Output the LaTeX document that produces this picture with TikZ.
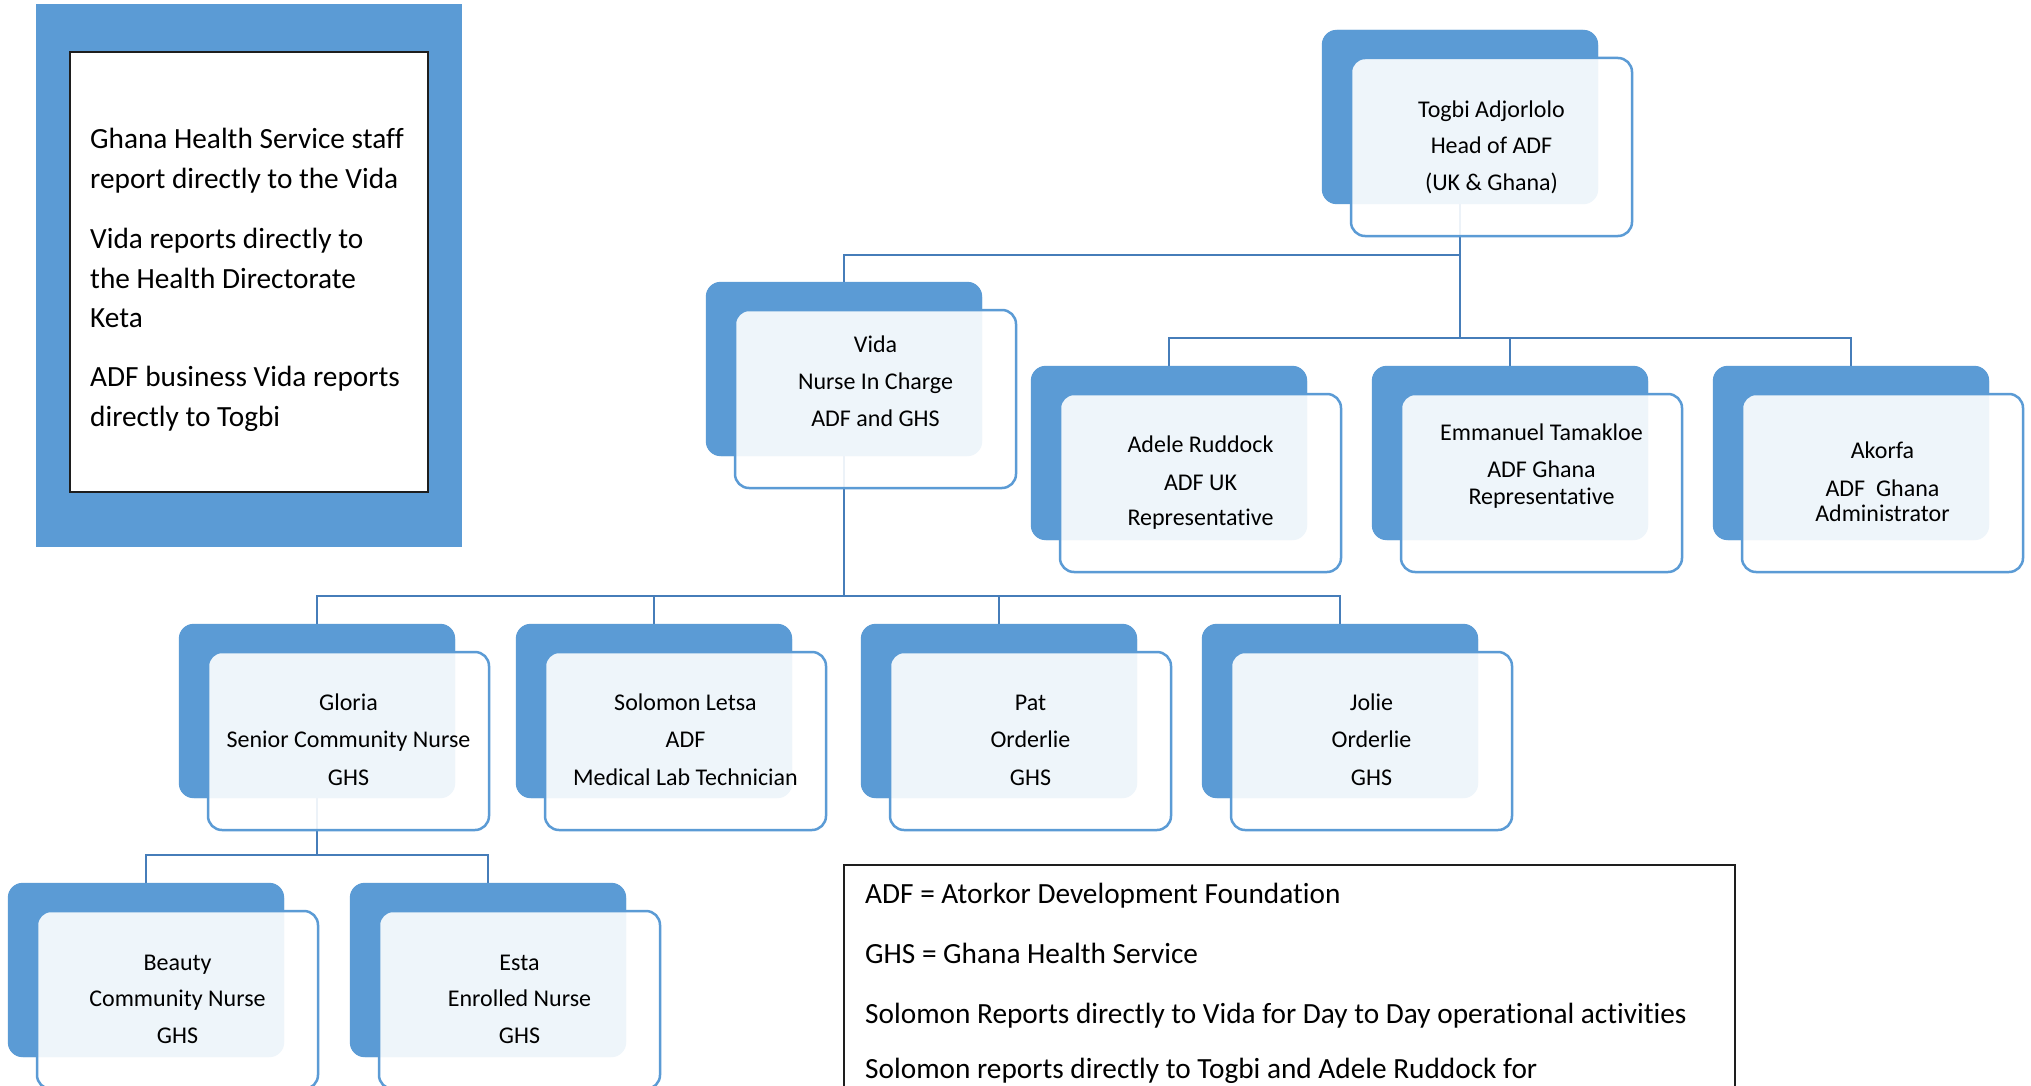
\documentclass[tikz,border=0pt]{standalone}
\usepackage{fontspec}
\setmainfont{Carlito}[Ligatures={NoCommon,NoContextual}]
\definecolor{accent}{RGB}{91,155,213}
\definecolor{connc}{RGB}{70,125,185}
\definecolor{legbord}{RGB}{30,30,30}
\tikzset{
  backbox/.style={fill=accent, draw=none, rounded corners=15pt, minimum width=276pt, minimum height=174pt, inner sep=0pt},
  frontbox/.style={fill=white, fill opacity=0.9, draw=accent, line width=2.5pt, rounded corners=14pt, minimum width=281pt, minimum height=178pt, inner sep=0pt},
  conn/.style={draw=connc, line width=2.8pt},
  nodetxt/.style={font=\fontsize{24}{29}\selectfont, anchor=base, inner sep=0pt, text=black},
  legtxt/.style={font=\fontsize{29.3}{35}\selectfont, anchor=base west, inner sep=0pt, text=black},
}
\begin{document}
\begin{tikzpicture}[x=1pt,y=-1pt]
\clip (0,0) rectangle (2031,1086);
\fill[white] (0,0) rectangle (2031,1086);

% ---------- legend left ----------
\fill[accent] (36,4) rectangle (462,547);
\draw[legbord, fill=white, line width=1.5pt] (70,52) rectangle (428,492);
\node[legtxt] (l1a) at (90,149) {Ghana Health Service staff};
\node[legtxt] (l1b) at (90,189) {report directly to the Vida};
\node[legtxt] (l1c) at (90,248) {Vida reports directly to};
\node[legtxt] (l1d) at (90,288) {the Health Directorate};
\node[legtxt] (l1e) at (90,327) {Keta};
\node[legtxt] (l1f) at (90,386.5) {ADF business Vida reports};
\node[legtxt] (l1g) at (90,426) {directly to Togbi};

% ---------- legend bottom ----------
\draw[legbord, fill=white, line width=2pt] (844,865) rectangle (1735,1120);
\node[legtxt] (l2a) at (865,903) {ADF = Atorkor Development Foundation};
\node[legtxt] (l2b) at (865,963) {GHS = Ghana Health Service};
\node[legtxt] (l2c) at (865,1023) {Solomon Reports directly to Vida for Day to Day operational activities};
\node[legtxt] (l2d) at (865,1078) {Solomon reports directly to Togbi and Adele Ruddock for};

% ---------- back boxes ----------
\node[backbox] (togbiB) at (1460,117) {};
\node[backbox] (vidaB)  at (844,369) {};
\node[backbox] (adeleB) at (1169,453) {};
\node[backbox] (emmB)   at (1510,453) {};
\node[backbox] (akoB)   at (1851,453) {};
\node[backbox] (gloB)   at (317,711) {};
\node[backbox] (solB)   at (654,711) {};
\node[backbox] (patB)   at (999,711) {};
\node[backbox] (jolB)   at (1340,711) {};
\node[backbox] (beaB)   at (146,970) {};
\node[backbox] (estB)   at (488,970) {};

% ---------- connectors ----------
\coordinate (j1) at (1460,255);
\coordinate (j2) at (1460,338);
\coordinate (j3) at (844,596);
\coordinate (j4) at (317,855);
\draw[conn] (togbiB.south) -- (j2);
\draw[conn] (j1) -| (vidaB.north);
\draw[conn] (j2) -| (adeleB.north);
\draw[conn] (j2) -| (emmB.north);
\draw[conn] (j2) -| (akoB.north);
\draw[conn] (vidaB.south) -- (j3);
\draw[conn] (j3) -| (gloB.north);
\draw[conn] (j3) -| (solB.north);
\draw[conn] (j3) -| (patB.north);
\draw[conn] (j3) -| (jolB.north);
\draw[conn] (gloB.south) -- (j4);
\draw[conn] (j4) -| (beaB.north);
\draw[conn] (j4) -| (estB.north);

% redraw back boxes over connectors
\foreach \n in {togbiB,vidaB,adeleB,emmB,akoB,gloB,solB,patB,jolB,beaB,estB}{
  \fill[accent, rounded corners=15pt] (\n.north west) rectangle (\n.south east);
}

% ---------- front boxes ----------
\node[frontbox] (togbiF) at (1491.5,147) {};
\node[frontbox] (vidaF)  at (875.5,399) {};
\node[frontbox] (adeleF) at (1200.5,483) {};
\node[frontbox] (emmF)   at (1541.5,483) {};
\node[frontbox] (akoF)   at (1882.5,483) {};
\node[frontbox] (gloF)   at (348.5,741) {};
\node[frontbox] (solF)   at (685.5,741) {};
\node[frontbox] (patF)   at (1030.5,741) {};
\node[frontbox] (jolF)   at (1371.5,741) {};
\node[frontbox] (beaF)   at (177.5,1000) {};
\node[frontbox] (estF)   at (519.5,1000) {};

% ---------- texts ----------
\node[nodetxt] (togbi1) at (1491.5,118) {Togbi Adjorlolo};
\node[nodetxt] (togbi2) at (1491.5,154) {Head of ADF};
\node[nodetxt] (togbi3) at (1491.5,191) {(UK \& Ghana)};

\node[nodetxt] (vida1) at (875.5,352) {Vida};
\node[nodetxt] (vida2) at (875.5,389.5) {Nurse In Charge};
\node[nodetxt] (vida3) at (875.5,426) {ADF and GHS};

\node[nodetxt] (adele1) at (1200.5,452.5) {Adele Ruddock};
\node[nodetxt] (adele2) at (1200.5,490) {ADF UK};
\node[nodetxt] (adele3) at (1200.5,525.5) {Representative};

\node[nodetxt] (emm1) at (1541.5,440) {Emmanuel Tamakloe};
\node[nodetxt] (emm2) at (1541.5,477.5) {ADF Ghana};
\node[nodetxt] (emm3) at (1541.5,504.5) {Representative};

\node[nodetxt] (ako1) at (1882.5,458) {Akorfa};
\node[nodetxt] (ako2) at (1882.5,496) {ADF\ \ Ghana};
\node[nodetxt] (ako3) at (1882.5,521.5) {Administrator};

\node[nodetxt] (glo1) at (348.5,710) {Gloria};
\node[nodetxt] (glo2) at (348.5,747.5) {Senior Community Nurse};
\node[nodetxt] (glo3) at (348.5,785) {GHS};

\node[nodetxt] (sol1) at (685.5,710) {Solomon Letsa};
\node[nodetxt] (sol2) at (685.5,747.5) {ADF};
\node[nodetxt] (sol3) at (685.5,785) {Medical Lab Technician};

\node[nodetxt] (pat1) at (1030.5,710) {Pat};
\node[nodetxt] (pat2) at (1030.5,747.5) {Orderlie};
\node[nodetxt] (pat3) at (1030.5,785) {GHS};

\node[nodetxt] (jol1) at (1371.5,710) {Jolie};
\node[nodetxt] (jol2) at (1371.5,747.5) {Orderlie};
\node[nodetxt] (jol3) at (1371.5,785) {GHS};

\node[nodetxt] (bea1) at (177.5,970) {Beauty};
\node[nodetxt] (bea2) at (177.5,1006.5) {Community Nurse};
\node[nodetxt] (bea3) at (177.5,1043) {GHS};

\node[nodetxt] (est1) at (519.5,970) {Esta};
\node[nodetxt] (est2) at (519.5,1006.5) {Enrolled Nurse};
\node[nodetxt] (est3) at (519.5,1043) {GHS};
\end{tikzpicture}
\end{document}
